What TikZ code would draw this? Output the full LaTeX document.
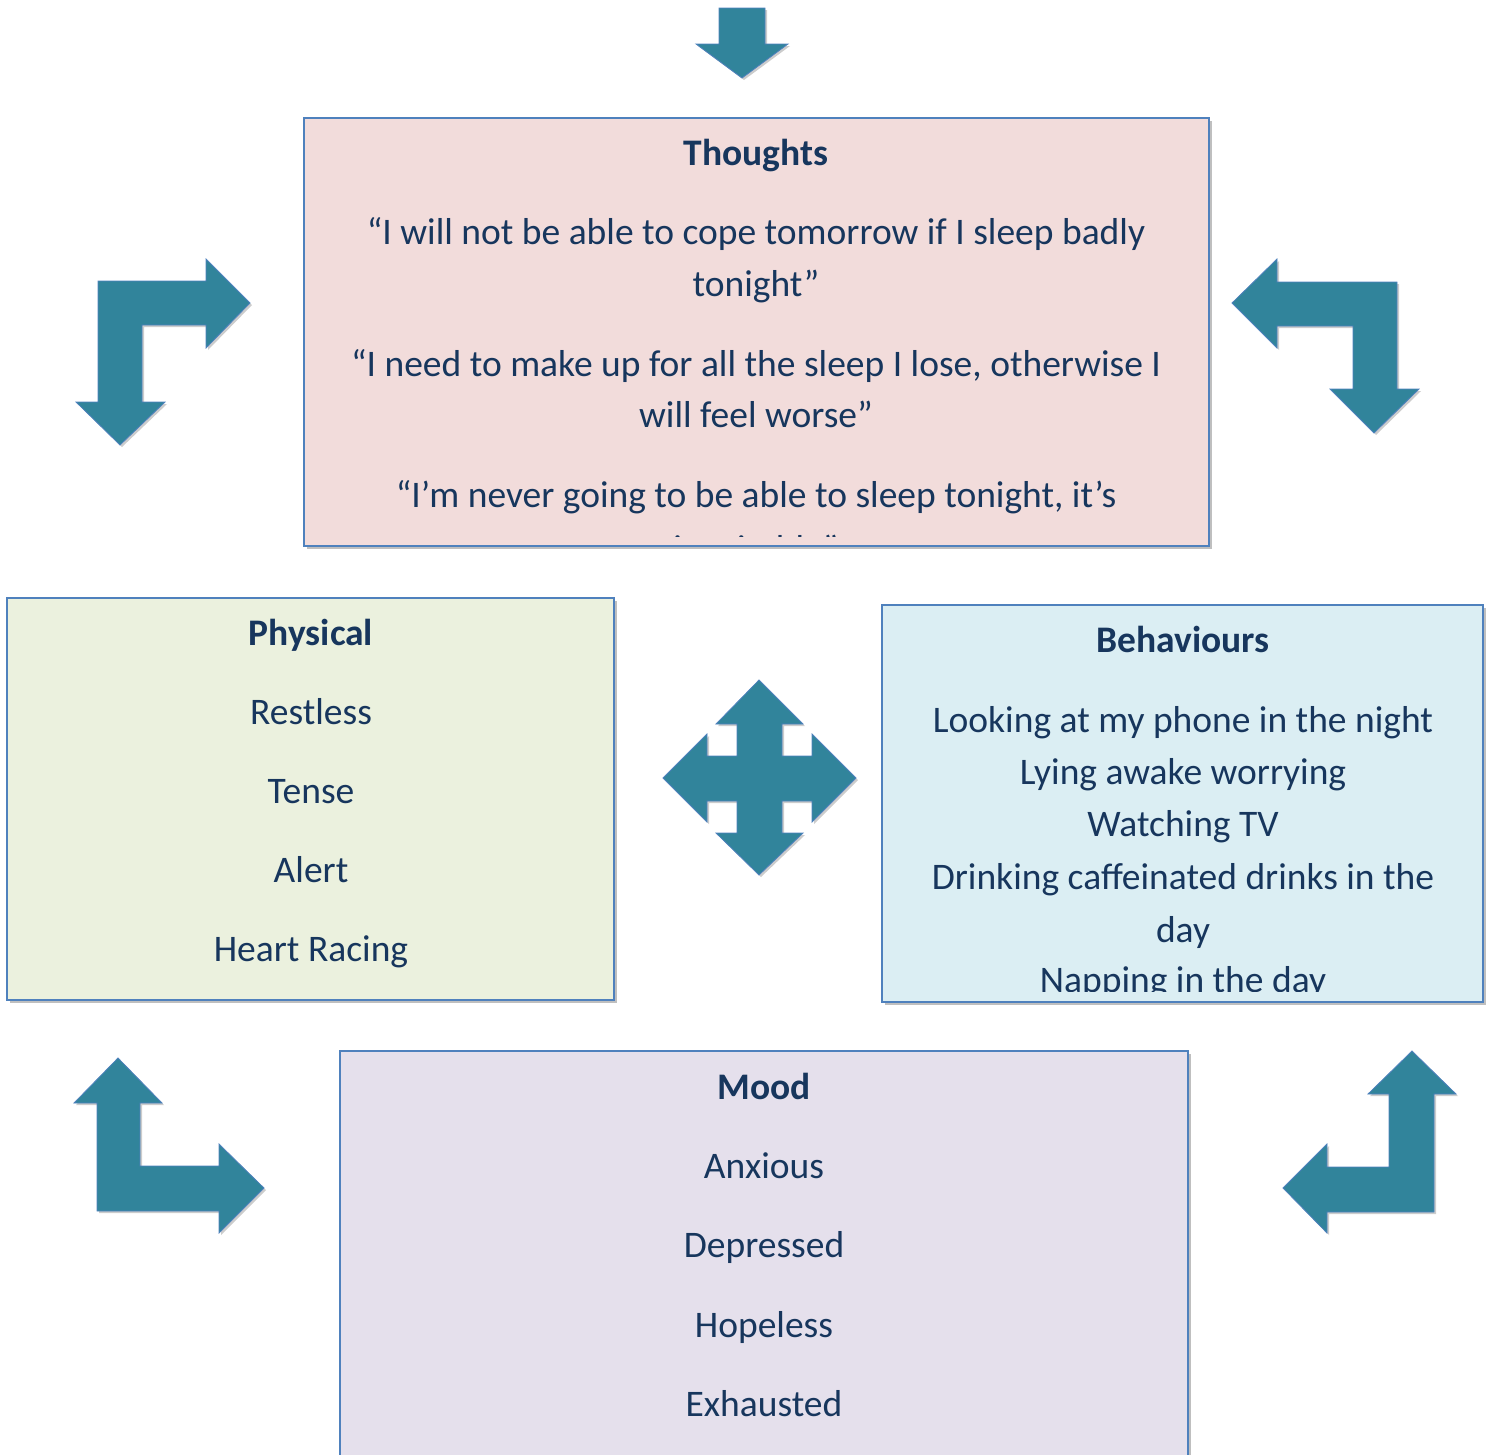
\documentclass[tikz,border=0pt]{standalone}
\usepackage{fontspec}
\setmainfont{Carlito}
\usetikzlibrary{shadows}
\definecolor{arrowteal}{HTML}{31849B}
\definecolor{edgeblue}{HTML}{4F81BD}
\definecolor{inkblue}{HTML}{17365D}
\definecolor{pinkfill}{HTML}{F2DCDB}
\definecolor{greenfill}{HTML}{EBF1DE}
\definecolor{bluefill}{HTML}{DBEEF3}
\definecolor{lilacfill}{HTML}{E5E0EC}
\tikzset{
  panel/.style={draw=edgeblue, line width=1.6pt, inner sep=0pt,
    drop shadow={shadow xshift=3pt, shadow yshift=-3pt, opacity=0.25, fill=black}},
  blockarrow/.style={fill=arrowteal, draw=edgeblue, line width=0.8pt, line join=miter,
    drop shadow={shadow xshift=2pt, shadow yshift=-2pt, opacity=0.2, fill=black}},
  txt/.style={anchor=base, inner sep=0pt, text=inkblue, font=\fontsize{37.5}{45}\selectfont},
  head/.style={txt, font=\fontsize{37.5}{45}\selectfont\bfseries}
}
\begin{document}
\begin{tikzpicture}[x=1pt, y=-1pt]
\useasboundingbox (0,0) rectangle (1491,1454);

% ---- panels ----
\node[panel, fill=pinkfill, minimum width=905pt, minimum height=428pt] (thoughts) at (756.5,332) {};
\node[panel, fill=greenfill, minimum width=607pt, minimum height=402pt] (physical) at (310.5,799) {};
\node[panel, fill=bluefill, minimum width=601pt, minimum height=397pt] (behaviours) at (1182.5,803.5) {};
\node[panel, fill=lilacfill, minimum width=848pt, minimum height=420pt] (mood) at (764,1261) {};

% ---- Thoughts text (the text frame stops short of the panel's lower edge) ----
\begin{scope}
\clip ([yshift=10pt]thoughts.south west) rectangle (thoughts.north east);
\node[head] (t0) at (756,165) {Thoughts};
\node[txt] (t1) at (756,244) {“I will not be able to cope tomorrow if I sleep badly};
\node[txt] (t2) at (756,296) {tonight”};
\node[txt] (t3) at (756,376) {“I need to make up for all the sleep I lose, otherwise I};
\node[txt] (t4) at (756,427) {will feel worse”};
\node[txt] (t5) at (756,507) {“I’m never going to be able to sleep tonight, it’s};
\node[txt] (t6) at (756,561) {inevitable”};
\end{scope}

% ---- Physical text ----
\node[head] (p0) at (311,645) {Physical};
\node[txt] (p1) at (311,724) {Restless};
\node[txt] (p2) at (311,803) {Tense};
\node[txt] (p3) at (311,882) {Alert};
\node[txt] (p4) at (311,961) {Heart Racing};

% ---- Behaviours text ----
\begin{scope}
\clip ([yshift=11pt]behaviours.south west) rectangle (behaviours.north east);
\node[head] (b0) at (1183,652) {Behaviours};
\node[txt] (b1) at (1183,732) {Looking at my phone in the night};
\node[txt] (b2) at (1183,784) {Lying awake worrying};
\node[txt] (b3) at (1183,836) {Watching TV};
\node[txt] (b4) at (1183,889) {Drinking caffeinated drinks in the};
\node[txt] (b5) at (1183,942) {day};
\node[txt] (b6) at (1183,992) {Napping in the day};
\end{scope}

% ---- Mood text ----
\node[head] (m0) at (764,1099) {Mood};
\node[txt] (m1) at (764,1178) {Anxious};
\node[txt] (m2) at (764,1257) {Depressed};
\node[txt] (m3) at (764,1337) {Hopeless};
\node[txt] (m4) at (764,1416) {Exhausted};

% ---- block arrows ----
% down arrow above Thoughts
\path[blockarrow] (719,8) -- (765,8) -- (765,44) -- (788,44) -- (742,78) -- (696,44) -- (719,44) -- cycle;

% top left: right and down
\path[blockarrow] (98,281) -- (206,281) -- (206,259) -- (250,303) -- (206,348) -- (206,325)
  -- (142,325) -- (142,402) -- (165,402) -- (120,445) -- (76,402) -- (98,402) -- cycle;

% top right: left and down
\path[blockarrow] (1397,282) -- (1397,389) -- (1419,389) -- (1374,433) -- (1330,389) -- (1353,389)
  -- (1353,326) -- (1277,326) -- (1277,348) -- (1232,303) -- (1277,259) -- (1277,282) -- cycle;

% bottom left: up and right
\path[blockarrow] (97,1211) -- (97,1103) -- (74,1103) -- (118,1058) -- (162,1103) -- (140,1103)
  -- (140,1166) -- (219,1166) -- (219,1144) -- (264,1188) -- (219,1233) -- (219,1211) -- cycle;

% bottom right: up and left
\path[blockarrow] (1434,1212) -- (1434,1094) -- (1456,1094) -- (1412,1051) -- (1368,1094) -- (1389,1094)
  -- (1389,1167) -- (1327,1167) -- (1327,1144) -- (1283,1188) -- (1327,1233) -- (1327,1212) -- cycle;

% centre: four-way arrow
\path[blockarrow] (737,724) -- (716,724) -- (759,680) -- (803,724) -- (782,724)
  -- (782,756) -- (812,756) -- (812,734) -- (856,778) -- (812,822) -- (812,801)
  -- (782,801) -- (782,833) -- (803,833) -- (759,875) -- (716,833) -- (737,833)
  -- (737,801) -- (707,801) -- (707,822) -- (663,778) -- (707,734) -- (707,756)
  -- (737,756) -- cycle;
\end{tikzpicture}
\end{document}
